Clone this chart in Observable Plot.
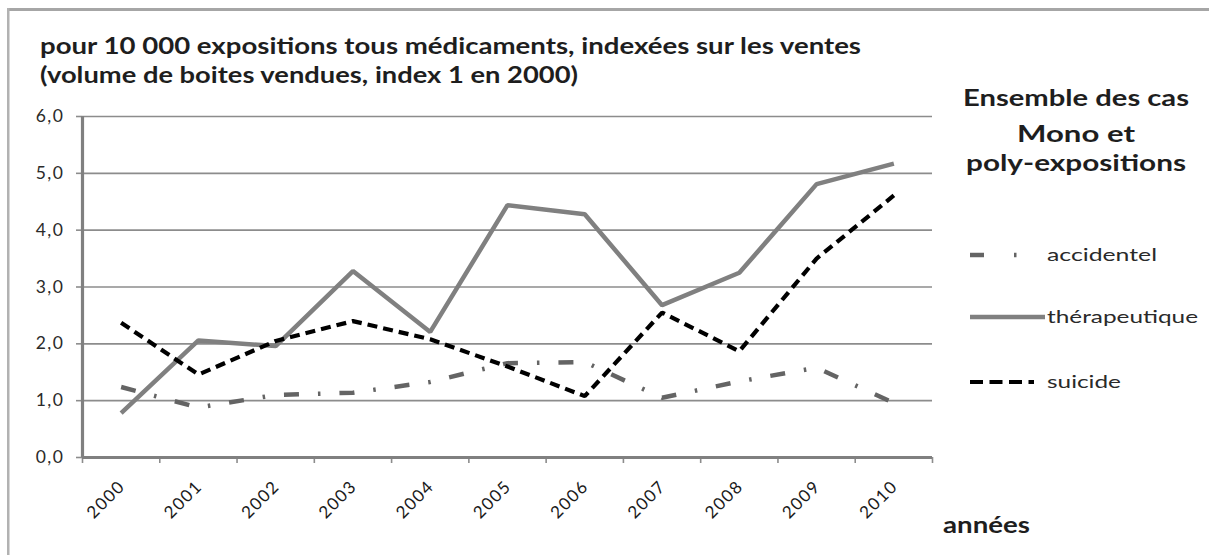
<!DOCTYPE html>
<html>
<head>
<meta charset="utf-8">
<script src="https://cdn.jsdelivr.net/npm/d3@7"></script>
<script src="https://cdn.jsdelivr.net/npm/@observablehq/plot@0.6"></script>
<style>
  html, body { margin: 0; padding: 0; background: #fff; }
  #wrap { position: relative; width: 1209px; height: 555px; overflow: hidden; background: #fff; }
  #wrap svg { position: absolute; left: 0; top: 0; }
</style>
</head>
<body>
<div id="wrap"></div>
<script>
// ---- data ----
const years = [2000, 2001, 2002, 2003, 2004, 2005, 2006, 2007, 2008, 2009, 2010];
const accidentel    = [1.24, 0.88, 1.10, 1.14, 1.33, 1.66, 1.68, 1.05, 1.34, 1.58, 0.96];
const therapeutique = [0.78, 2.06, 1.96, 3.28, 2.21, 4.44, 4.28, 2.68, 3.25, 4.81, 5.17];
const suicide       = [2.37, 1.46, 2.05, 2.40, 2.08, 1.60, 1.08, 2.55, 1.87, 3.50, 4.61];
const yTicks = [0, 1, 2, 3, 4, 5, 6];
const seriesNames = ["accidentel", "thérapeutique", "suicide"];
const titleLines = [
  "pour 10 000  expositions tous médicaments, indexées sur les ventes",
  "(volume de boites vendues, index 1 en 2000)"
];
const legendTitle = ["Ensemble des cas", "Mono et", "poly-expositions"];
const xAxisTitle = "années";

const table = [];
years.forEach((yr, i) => {
  table.push({year: yr, value: accidentel[i], serie: seriesNames[0]});
  table.push({year: yr, value: therapeutique[i], serie: seriesNames[1]});
  table.push({year: yr, value: suicide[i], serie: seriesNames[2]});
});
const boundaries = [...years.map(y => y - 0.5), years[years.length - 1] + 0.5];

const styles = {
  "accidentel":    {stroke: "#646464", strokeWidth: 4.5, strokeDasharray: "15,19,2.5,19"},
  "thérapeutique": {stroke: "#808080", strokeWidth: 4.5, strokeDasharray: null},
  "suicide":       {stroke: "#000000", strokeWidth: 4.2, strokeDasharray: "10,6"}
};

const fmt = d => d.toFixed(1).replace(".", ",");
const gridColor = "#8c8c8c";

const chart = Plot.plot({
  width: 1209,
  height: 555,
  marginLeft: 82,
  marginRight: 277,
  marginTop: 116,
  marginBottom: 98,
  style: {fontFamily: "Lato, 'Open Sans', sans-serif", color: "#2a2a2a", background: "transparent", overflow: "visible"},
  x: {type: "linear", domain: [boundaries[0], boundaries[boundaries.length - 1]]},
  y: {domain: [0, 6]},
  marks: [
    Plot.gridY(yTicks.filter(d => d > 0), {stroke: gridColor, strokeOpacity: 1, strokeWidth: 1.6}),
    Plot.axisY(yTicks, {tickSize: 6, tickPadding: 12, tickFormat: fmt, fontSize: 17.5, stroke: gridColor, strokeWidth: 1.6, label: null, fill: "#2a2a2a"}),
    Plot.axisX(boundaries, {tickSize: 6, tickFormat: () => "", stroke: gridColor, strokeWidth: 1.6, label: null}),
    Plot.axisX(years, {tickSize: 0, tickPadding: 26, dx: 1, tickRotate: -45, tickFormat: d => String(d), fontSize: 17, label: null, fill: "#1a1a1a"}),
    Plot.ruleX([boundaries[0]], {y1: 0, y2: 6, stroke: "#808080", strokeWidth: 3.2}),
    Plot.ruleY([0], {stroke: "#808080", strokeWidth: 3.2}),
    ...seriesNames.map(s => Plot.line(table.filter(d => d.serie === s), {
      x: "year", y: "value",
      stroke: styles[s].stroke, strokeWidth: styles[s].strokeWidth,
      strokeDasharray: styles[s].strokeDasharray, strokeLinejoin: "miter", strokeLinecap: "butt"
    }))
  ]
});
chart.querySelectorAll("g[aria-label='x-axis tick label'] text, g[aria-label='y-axis tick label'] text").forEach(t => t.setAttribute("letter-spacing", "1.5"));
const wrap = document.getElementById("wrap");
wrap.appendChild(chart);

// ---- overlay: frame, title, legend, axis title ----
const NS = "http://www.w3.org/2000/svg";
const ov = document.createElementNS(NS, "svg");
ov.setAttribute("width", 1209); ov.setAttribute("height", 555);
ov.style.fontFamily = "Lato, 'Open Sans', sans-serif";
wrap.appendChild(ov);
function el(tag, attrs, text) {
  const e = document.createElementNS(NS, tag);
  for (const k in attrs) e.setAttribute(k, attrs[k]);
  if (text != null) e.textContent = text;
  ov.appendChild(e);
  return e;
}
// frame
el("rect", {x: 7, y: 8, width: 1202, height: 3, fill: "#a6a6a6"});
el("rect", {x: 7, y: 8, width: 2.5, height: 547, fill: "#b2b2b2"});
// title
el("text", {x: 40, y: 54, "font-size": 22, "font-weight": "bold", fill: "#1e1e1e", textLength: 821, lengthAdjust: "spacingAndGlyphs"}, titleLines[0]);
el("text", {x: 40, y: 83, "font-size": 22, "font-weight": "bold", fill: "#1e1e1e", textLength: 538, lengthAdjust: "spacingAndGlyphs"}, titleLines[1]);
// legend title
const ltY = [106, 142, 171];
const ltW = [226, 118, 220];
legendTitle.forEach((t, i) => el("text", {x: 1076, y: ltY[i], "text-anchor": "middle", "font-size": 23, "font-weight": "bold", fill: "#1e1e1e", textLength: ltW[i], lengthAdjust: "spacingAndGlyphs"}, t));
// legend entries
const legY = [255, 317, 382];
const legW = [110, 151, 74];
el("line", {x1: 970, x2: 984, y1: legY[0], y2: legY[0], stroke: styles["accidentel"].stroke, "stroke-width": 4.5});
el("line", {x1: 1014, x2: 1016.5, y1: legY[0], y2: legY[0], stroke: styles["accidentel"].stroke, "stroke-width": 4.5});
el("line", {x1: 970, x2: 1045, y1: legY[1], y2: legY[1], stroke: styles["thérapeutique"].stroke, "stroke-width": 4.5});
el("line", {x1: 970, x2: 1034, y1: legY[2], y2: legY[2], stroke: "#000", "stroke-width": 4.2, "stroke-dasharray": "13,6.5"});
seriesNames.forEach((s, i) => el("text", {x: 1047, y: legY[i] + 6, "font-size": 17.5, fill: "#2a2a2a", textLength: legW[i], lengthAdjust: "spacingAndGlyphs"}, s));
// x-axis title
el("text", {x: 943, y: 533, "font-size": 22, "font-weight": "bold", fill: "#1e1e1e", textLength: 87, lengthAdjust: "spacingAndGlyphs"}, xAxisTitle);
</script>
</body>
</html>
